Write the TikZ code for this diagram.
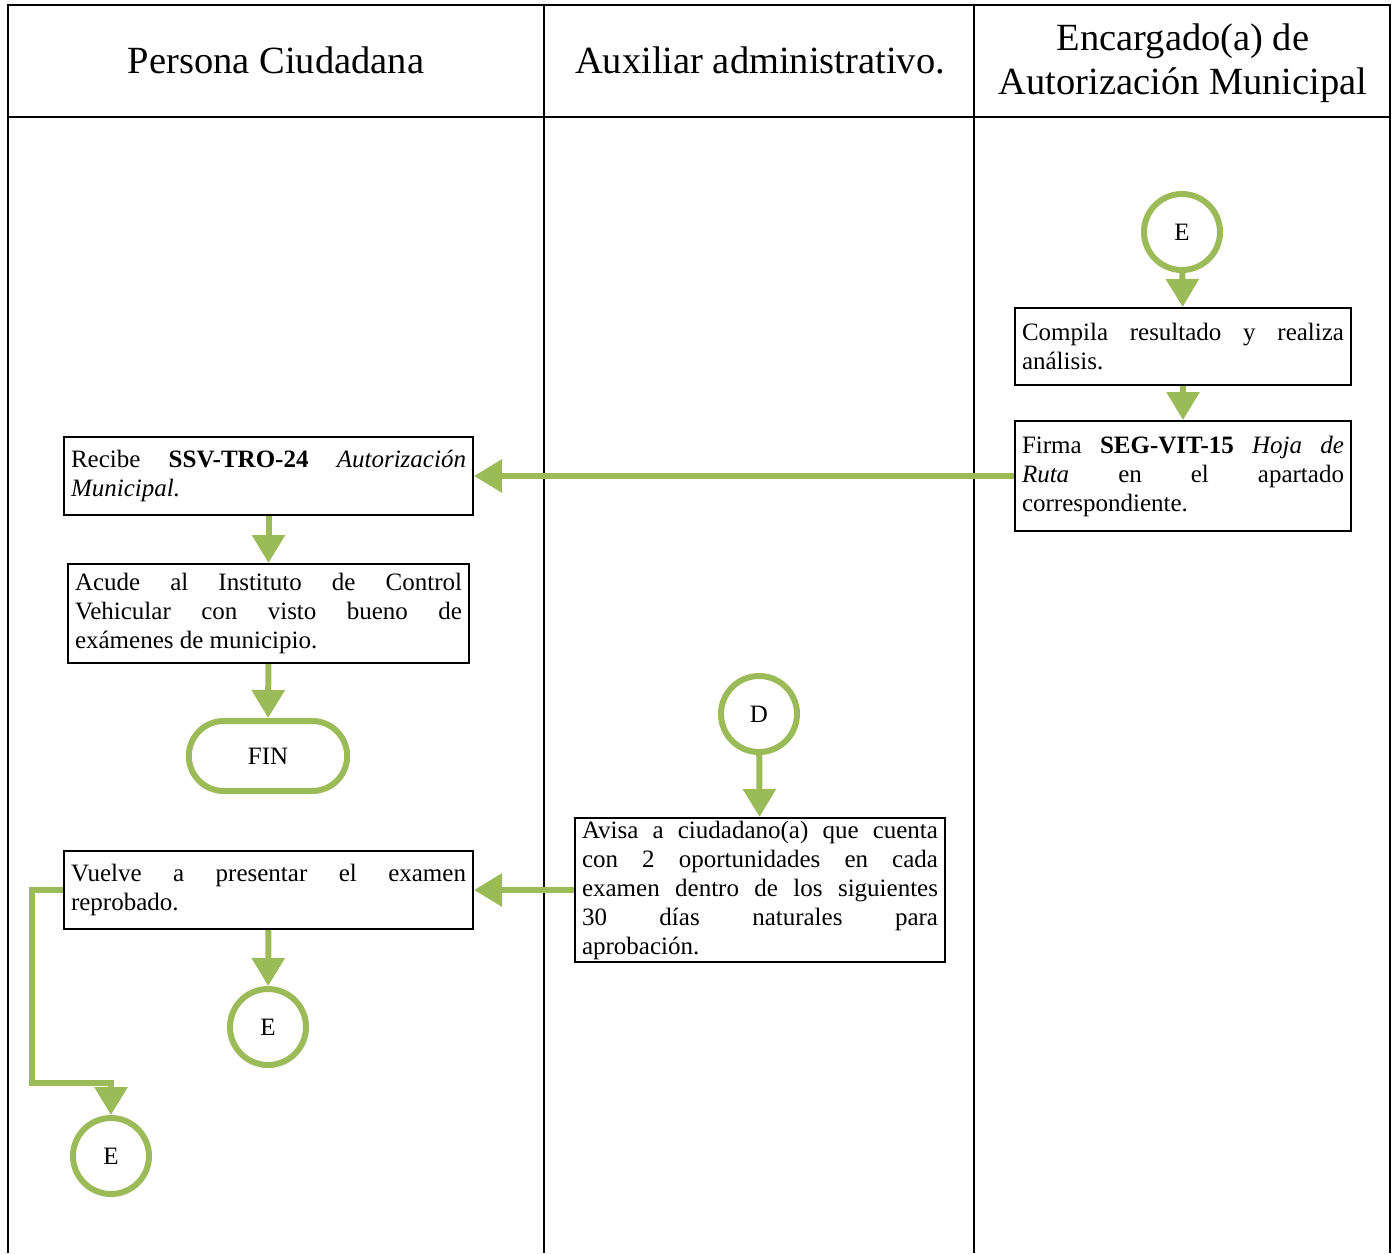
\documentclass[tikz,border=0pt]{standalone}
\usepackage{fontspec}
\setmainfont{Liberation Serif}
\usetikzlibrary{arrows.meta,shapes.misc}
\definecolor{grn}{HTML}{9BBB59}
\newcommand\txtsize{\fontsize{25}{29}\selectfont\hyphenpenalty=10000\exhyphenpenalty=10000 }
\newcommand\hdsize{\fontsize{38.5}{44}\selectfont}
\begin{document}
\begin{tikzpicture}[x=1pt,y=-1pt,
  lane/.style={draw=black,line width=2pt},
  box/.style={draw=black,line width=2pt,inner xsep=7pt,inner ysep=0pt,align=justify,font=\txtsize,anchor=north west},
  conn/.style={circle,draw=grn,line width=6pt,minimum size=76pt,inner sep=0pt,font=\txtsize},
  flow/.style={draw=grn,line width=6pt,-{Triangle[length=28pt,width=32pt]}},
  hd/.style={font=\hdsize,align=center}]
\useasboundingbox (0,0) rectangle (1400,1253);
% lanes
\draw[lane] (8,1253) -- (8,5) -- (1390,5) -- (1390,1253);
\draw[lane] (8,117) -- (1390,117);
\draw[lane] (544,5) -- (544,1253);
\draw[lane] (974,5) -- (974,1253);
\node[hd] (h1) at (276,60) {Persona Ciudadana};
\node[hd] (h2) at (760,60) {Auxiliar administrativo.};
\node[hd] (h3) at (1183,63) {Encargado(a) de\\Autorización Municipal};
% nodes
\node[conn] (eTop) at (1182,232) {E};
\node[box,text width=322pt,minimum height=77pt] (compila) at (1014,307) {Compila resultado y realiza\linebreak análisis.};
\node[box,text width=322pt,minimum height=110pt] (firma) at (1014,420) {Firma \textbf{SEG-VIT-15} \textit{Hoja de}\linebreak \textit{Ruta} en el apartado\linebreak correspondiente.};
\node[box,text width=395pt,minimum height=78pt] (recibe) at (63,436) {Recibe \textbf{SSV-TRO-24} \textit{Autorización}\linebreak \textit{Municipal.}};
\node[box,text width=387pt,minimum height=99pt] (acude) at (67,563) {Acude al Instituto de Control\linebreak Vehicular con visto bueno de\linebreak exámenes de municipio.};
\node[rounded rectangle,draw=grn,line width=6pt,minimum width=165pt,minimum height=70pt,font=\txtsize] (fin) at (268,756) {FIN};
\node[conn] (d) at (759,714) {D};
\node[box,text width=356pt,minimum height=144pt] (avisa) at (574,817) {Avisa a ciudadano(a) que cuenta\linebreak con 2 oportunidades en cada\linebreak examen dentro de los siguientes\linebreak 30 días naturales para\linebreak aprobación.};
\node[box,text width=395pt,minimum height=78pt] (vuelve) at (63,850) {Vuelve a presentar el examen\linebreak reprobado.};
\node[conn] (eMid) at (268,1027) {E};
\node[conn] (eBot) at (111,1156) {E};
\coordinate (bend) at (32,1083);
% connectors
\draw[flow] (eTop) -- (compila);
\draw[flow] (compila) -- (firma);
\draw[flow] (firma.west) -- (recibe.east);
\draw[flow] (recibe) -- (acude);
\draw[flow] (acude) -- (fin);
\draw[flow] (d) -- (avisa);
\draw[flow] (avisa.west) -- (vuelve.east);
\draw[flow] (vuelve) -- (eMid);
\draw[flow] (vuelve.west) -| (bend) -| (eBot.north);
\end{tikzpicture}
\end{document}
